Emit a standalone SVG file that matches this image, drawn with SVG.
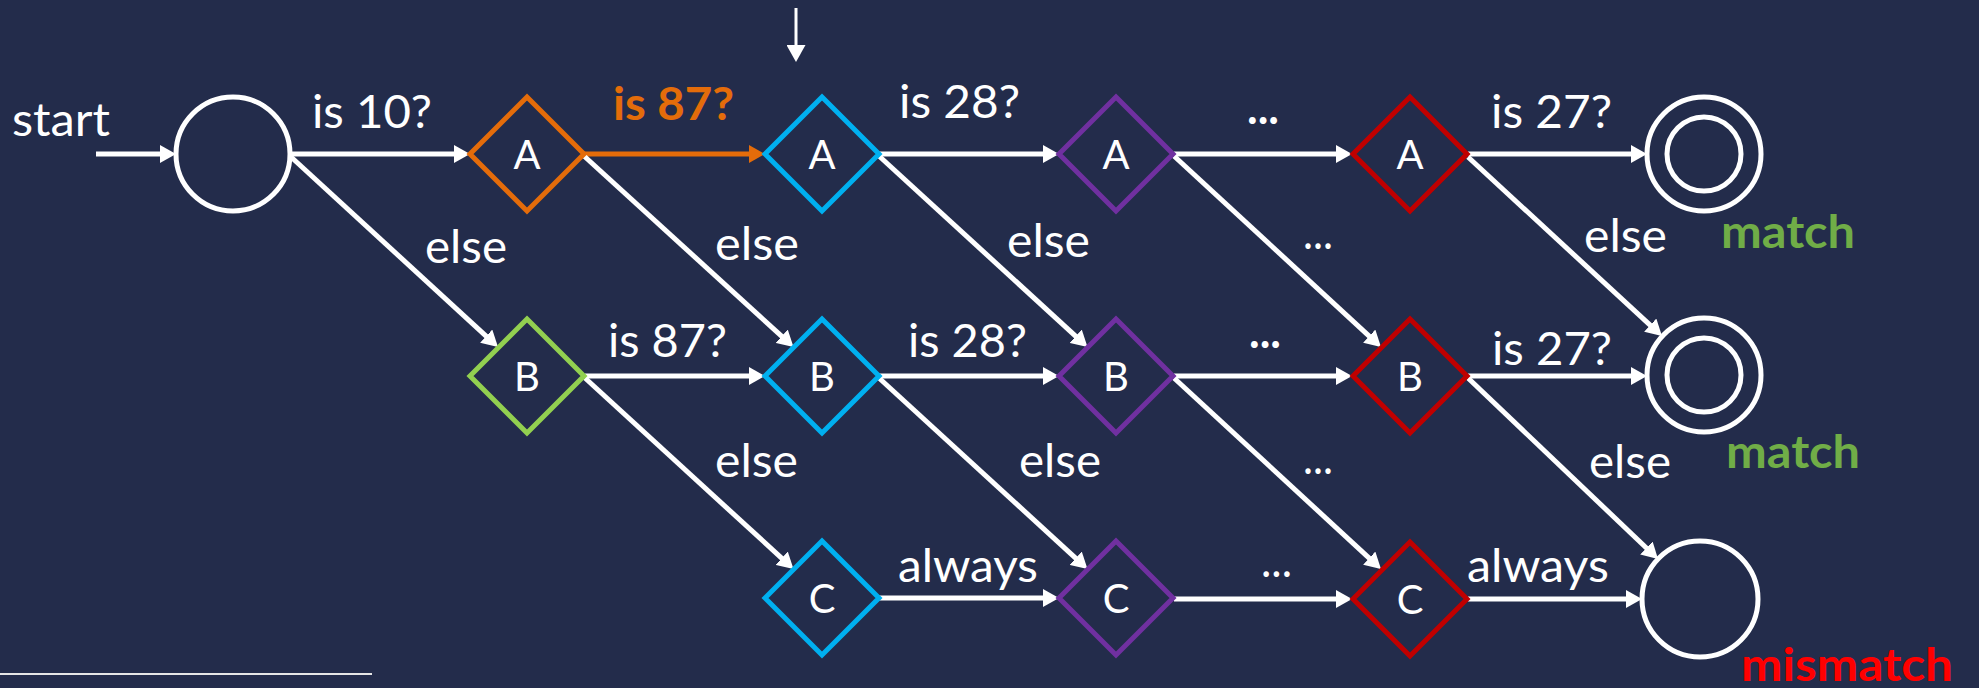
<svg xmlns="http://www.w3.org/2000/svg" width="1979" height="688" viewBox="0 0 1979 688">
  <defs>
    <style>
      .bg { fill: #232C4B; }
      .conn { stroke: #FFFFFF; stroke-width: 5; fill: none; }
      .conn-hot { stroke: #E46C0A; stroke-width: 5; fill: none; }
      .state { fill: none; stroke: #FFFFFF; stroke-width: 5; }
      .dia { fill: none; stroke-width: 5; stroke-linejoin: miter; }
      .lbl { font-family: Lato, "Open Sans", "Liberation Sans", sans-serif; font-size: 46px; fill: #FFFFFF; }
      .bold { font-weight: bold; }
      .node-lbl { font-family: Lato, "Open Sans", "Liberation Sans", sans-serif; font-size: 40px; fill: #FFFFFF; text-anchor: middle; }
    </style>
    <polygon id="diamond" points="0,-57 57,0 0,57 -57,0"/>
    <marker id="arr" markerUnits="userSpaceOnUse" viewBox="0 -9 16 18" refX="8" refY="0" markerWidth="16" markerHeight="18" orient="auto">
      <path d="M0,-9 L16,0 L0,9 z" fill="#FFFFFF"/>
    </marker>
    <marker id="arr-hot" markerUnits="userSpaceOnUse" viewBox="0 -9 16 18" refX="8" refY="0" markerWidth="16" markerHeight="18" orient="auto">
      <path d="M0,-9 L16,0 L0,9 z" fill="#E46C0A"/>
    </marker>
    <marker id="arr-thin" markerUnits="userSpaceOnUse" viewBox="0 -9.5 17 19" refX="2" refY="0" markerWidth="17" markerHeight="19" orient="auto">
      <path d="M0,-9.5 L17,0 L0,9.5 z" fill="#FFFFFF"/>
    </marker>
  </defs>

  <rect class="bg" x="0" y="0" width="1979" height="688"/>

  <!-- connectors -->
  <g id="connectors">
    <!-- entry and pointer -->
    <line class="conn" x1="96" y1="154" x2="168" y2="154" marker-end="url(#arr)"/>
    <line x1="796" y1="8" x2="796" y2="47" stroke="#FFFFFF" stroke-width="3" marker-end="url(#arr-thin)"/>

    <!-- row A -->
    <line class="conn" x1="290" y1="154" x2="462" y2="154" marker-end="url(#arr)"/>
    <line class="conn-hot" x1="584" y1="154" x2="757" y2="154" marker-end="url(#arr-hot)"/>
    <line class="conn" x1="879" y1="154" x2="1051" y2="154" marker-end="url(#arr)"/>
    <line class="conn" x1="1174" y1="154" x2="1344" y2="154" marker-end="url(#arr)"/>
    <line class="conn" x1="1468" y1="154" x2="1639" y2="154" marker-end="url(#arr)"/>

    <!-- row B -->
    <line class="conn" x1="585" y1="376" x2="757" y2="376" marker-end="url(#arr)"/>
    <line class="conn" x1="879" y1="376" x2="1051" y2="376" marker-end="url(#arr)"/>
    <line class="conn" x1="1174" y1="376" x2="1344" y2="376" marker-end="url(#arr)"/>
    <line class="conn" x1="1468" y1="376" x2="1639" y2="376" marker-end="url(#arr)"/>

    <!-- row C -->
    <line class="conn" x1="879" y1="598" x2="1051" y2="598" marker-end="url(#arr)"/>
    <line class="conn" x1="1174" y1="599" x2="1344" y2="599" marker-end="url(#arr)"/>
    <line class="conn" x1="1468" y1="599" x2="1634" y2="599" marker-end="url(#arr)"/>

    <!-- else branches A -> B -->
    <line class="conn" x1="290" y1="156" x2="492.1" y2="341.6" marker-end="url(#arr)"/>
    <line class="conn" x1="584" y1="156" x2="787.6" y2="341.6" marker-end="url(#arr)"/>
    <line class="conn" x1="879" y1="156" x2="1081.6" y2="341.6" marker-end="url(#arr)"/>
    <line class="conn" x1="1174" y1="156" x2="1375.1" y2="341.6" marker-end="url(#arr)"/>
    <line class="conn" x1="1468" y1="157" x2="1656.1" y2="330.6" marker-end="url(#arr)"/>

    <!-- else branches B -> C -->
    <line class="conn" x1="585" y1="378" x2="787.6" y2="563.6" marker-end="url(#arr)"/>
    <line class="conn" x1="879" y1="378" x2="1081.6" y2="563.6" marker-end="url(#arr)"/>
    <line class="conn" x1="1174" y1="378" x2="1375.1" y2="563.6" marker-end="url(#arr)"/>
    <line class="conn" x1="1468" y1="378" x2="1652.2" y2="553.5" marker-end="url(#arr)"/>
  </g>

  <!-- states -->
  <g id="start-state">
    <circle class="state" cx="233" cy="154" r="57"/>
  </g>
  <g id="match-a">
    <circle class="state" cx="1704" cy="154" r="57"/>
    <circle class="state" cx="1704" cy="154" r="37"/>
  </g>
  <g id="match-b">
    <circle class="state" cx="1704" cy="375" r="57"/>
    <circle class="state" cx="1704" cy="375" r="37"/>
  </g>
  <g id="mismatch-state">
    <circle class="state" cx="1700" cy="599" r="58"/>
  </g>

  <!-- decision nodes -->
  <g id="a1"><use href="#diamond" class="dia" stroke="#E46C0A" x="527" y="154"/><text class="node-lbl" x="527" y="169">A</text></g>
  <g id="a2"><use href="#diamond" class="dia" stroke="#00B0F0" x="822" y="154"/><text class="node-lbl" x="822" y="169">A</text></g>
  <g id="a3"><use href="#diamond" class="dia" stroke="#7030A0" x="1116" y="154"/><text class="node-lbl" x="1116" y="169">A</text></g>
  <g id="a4"><use href="#diamond" class="dia" stroke="#C00000" x="1410" y="154"/><text class="node-lbl" x="1410" y="169">A</text></g>

  <g id="b1"><use href="#diamond" class="dia" stroke="#92D050" x="527" y="376"/><text class="node-lbl" x="527" y="391">B</text></g>
  <g id="b2"><use href="#diamond" class="dia" stroke="#00B0F0" x="822" y="376"/><text class="node-lbl" x="822" y="391">B</text></g>
  <g id="b3"><use href="#diamond" class="dia" stroke="#7030A0" x="1116" y="376"/><text class="node-lbl" x="1116" y="391">B</text></g>
  <g id="b4"><use href="#diamond" class="dia" stroke="#C00000" x="1410" y="376"/><text class="node-lbl" x="1410" y="391">B</text></g>

  <g id="c2"><use href="#diamond" class="dia" stroke="#00B0F0" x="822" y="598"/><text class="node-lbl" x="822" y="613">C</text></g>
  <g id="c3"><use href="#diamond" class="dia" stroke="#7030A0" x="1116" y="598"/><text class="node-lbl" x="1116" y="613">C</text></g>
  <g id="c4"><use href="#diamond" class="dia" stroke="#C00000" x="1410" y="599"/><text class="node-lbl" x="1410" y="614">C</text></g>

  <!-- edge labels -->
  <g id="labels">
    <text class="lbl" x="12" y="136" textLength="98" lengthAdjust="spacingAndGlyphs">start</text>
    <text class="lbl" x="312" y="128" textLength="120" lengthAdjust="spacingAndGlyphs">is 10?</text>
    <text class="lbl bold" x="613" y="120" style="fill:#E46C0A" textLength="121" lengthAdjust="spacingAndGlyphs">is 87?</text>
    <text class="lbl" x="899" y="118" textLength="121" lengthAdjust="spacingAndGlyphs">is 28?</text>
    <text class="lbl bold" x="1247" y="124" textLength="32" lengthAdjust="spacingAndGlyphs">...</text>
    <text class="lbl" x="1491" y="128" textLength="121" lengthAdjust="spacingAndGlyphs">is 27?</text>

    <text class="lbl" x="425" y="263" textLength="82" lengthAdjust="spacingAndGlyphs">else</text>
    <text class="lbl" x="715" y="260" textLength="84" lengthAdjust="spacingAndGlyphs">else</text>
    <text class="lbl" x="1007" y="257" textLength="83" lengthAdjust="spacingAndGlyphs">else</text>
    <text class="lbl" x="1303" y="249" textLength="30" lengthAdjust="spacingAndGlyphs">...</text>
    <text class="lbl" x="1584" y="252" textLength="83" lengthAdjust="spacingAndGlyphs">else</text>
    <text class="lbl bold" x="1721" y="248" style="fill:#70AD47" textLength="134" lengthAdjust="spacingAndGlyphs">match</text>

    <text class="lbl" x="608" y="357" textLength="119" lengthAdjust="spacingAndGlyphs">is 87?</text>
    <text class="lbl" x="908" y="357" textLength="119" lengthAdjust="spacingAndGlyphs">is 28?</text>
    <text class="lbl bold" x="1249" y="348" textLength="32" lengthAdjust="spacingAndGlyphs">...</text>
    <text class="lbl" x="1492" y="365" textLength="120" lengthAdjust="spacingAndGlyphs">is 27?</text>

    <text class="lbl" x="715" y="477" textLength="83" lengthAdjust="spacingAndGlyphs">else</text>
    <text class="lbl" x="1019" y="477" textLength="82" lengthAdjust="spacingAndGlyphs">else</text>
    <text class="lbl" x="1303" y="474" textLength="30" lengthAdjust="spacingAndGlyphs">...</text>
    <text class="lbl" x="1589" y="478" textLength="82" lengthAdjust="spacingAndGlyphs">else</text>
    <text class="lbl bold" x="1726" y="468" style="fill:#70AD47" textLength="134" lengthAdjust="spacingAndGlyphs">match</text>

    <text class="lbl" x="898" y="582" textLength="140" lengthAdjust="spacingAndGlyphs">always</text>
    <text class="lbl" x="1261" y="577" textLength="31" lengthAdjust="spacingAndGlyphs">...</text>
    <text class="lbl" x="1467" y="582" textLength="142" lengthAdjust="spacingAndGlyphs">always</text>
    <text class="lbl bold" x="1741" y="681" style="fill:#FF0000" textLength="212" lengthAdjust="spacingAndGlyphs">mismatch</text>
  </g>

  <!-- rule at the bottom left -->
  <line x1="0" y1="674" x2="372" y2="674" stroke="#E6E6E6" stroke-width="2"/>
</svg>
